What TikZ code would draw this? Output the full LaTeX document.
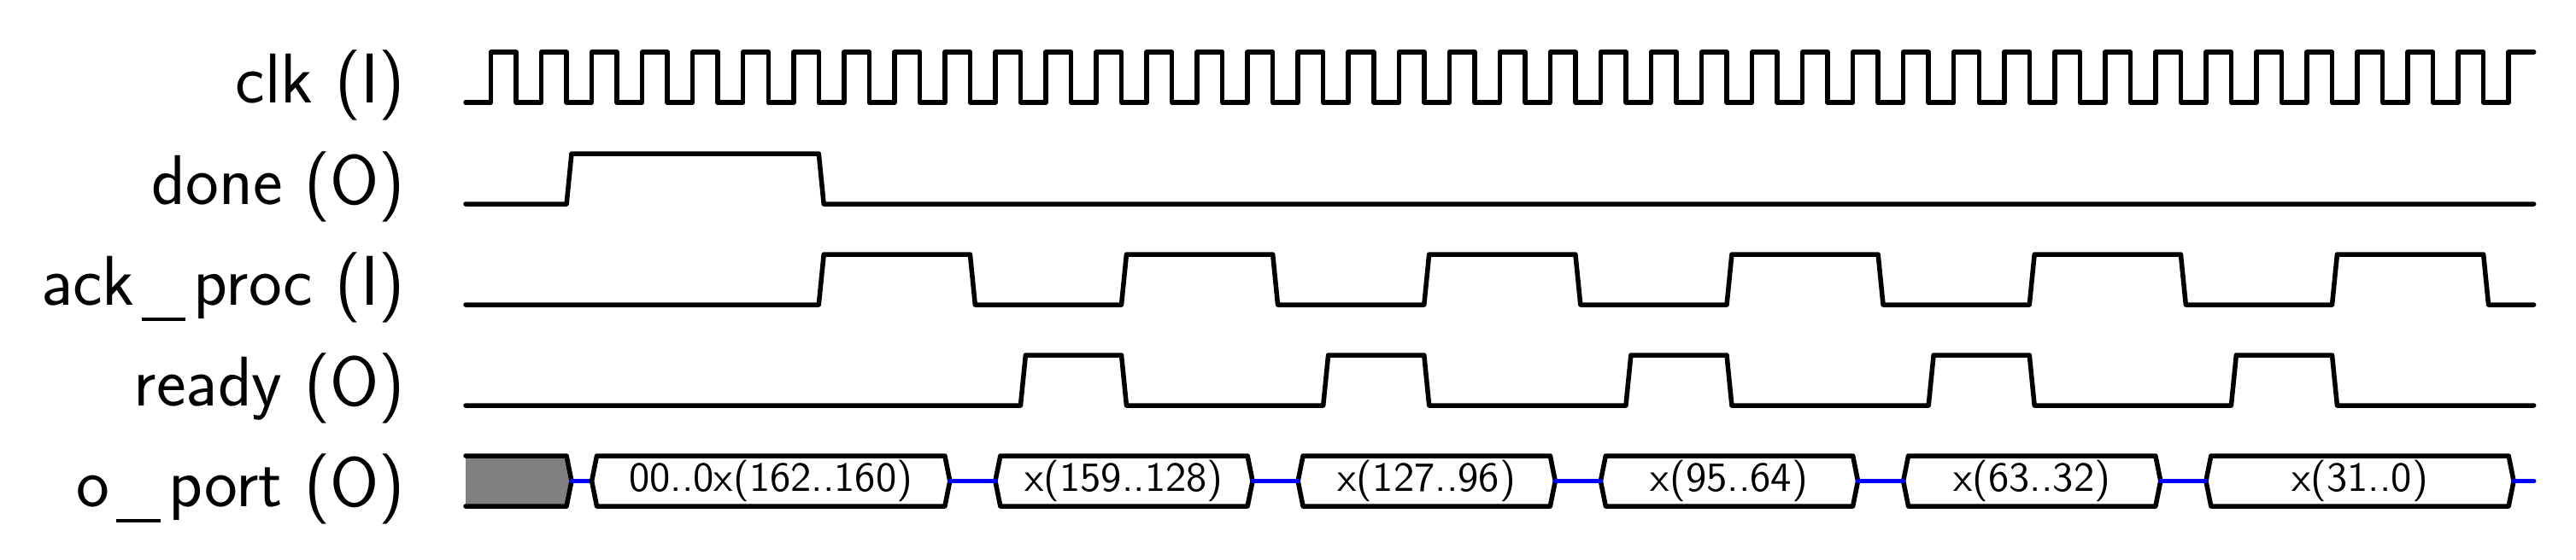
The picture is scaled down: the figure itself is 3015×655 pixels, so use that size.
\documentclass[tikz,border=0pt]{standalone}
\usepackage{tikz}
\newcommand\usc{\kern0.1em\rule[-0.235em]{0.62em}{0.05em}\kern0.12em}
\tikzset{
  sig/.style={line width=1.1pt, line cap=round, line join=round, black},
  zsig/.style={line width=1.1pt, line cap=round, line join=round, blue},
  lbl/.style={anchor=base east, inner sep=0pt, font=\fontsize{16.5}{19}\selectfont\sffamily},
  dtxt/.style={anchor=center, inner sep=0pt, font=\fontsize{9.7}{11}\selectfont\sffamily},
}
\begin{document}
\begin{tikzpicture}[x=0.2pt,y=-0.2pt]
\useasboundingbox (0,0) rectangle (3015,655);
% labels
\node[lbl] (lclk) at (475,120) {clk (I)};
\node[lbl] (ldone) at (475,239) {done (O)};
\node[lbl] (lack) at (475,357) {ack\usc proc (I)};
\node[lbl] (lready) at (475,475) {ready (O)};
\node[lbl] (lport) at (475,593) {o\usc port (O)};
\begin{scope}[shift={(545,0)}, x=5.904pt]
% clock
\draw[sig] (0,120) \foreach \k in {0,...,39}{ -- ({2*\k+1},120) -- ({2*\k+1},61) -- ({2*\k+2},61) -- ({2*\k+2},120) } -- (81,120) -- (81,61) -- (82,61);
% done
\draw[sig] (0,239) -- (4,239) -- (4.2,180) -- (14,180) -- (14.2,239) -- (82,239);
% ack_proc
\draw[sig] (0,357) -- (14,357) -- (14.2,298) -- (20,298) -- (20.2,357)
  \foreach \a in {26,38,50,62,74}{ -- (\a,357) -- ({\a+0.2},298) -- ({\a+6},298) -- ({\a+6.2},357) } -- (82,357);
% ready
\draw[sig] (0,475) \foreach \a in {22,34,46,58,70}{ -- (\a,475) -- ({\a+0.2},416) -- ({\a+4},416) -- ({\a+4.2},475) } -- (82,475);
% o_port
\fill[gray] (0,534) -- (4,534) -- (4.2,563.5) -- (4,593) -- (0,593) -- cycle;
\draw[sig] (0,534) -- (4,534) -- (4.2,563.5) -- (4,593) -- (0,593);
\draw[zsig] (4.2,563.5) -- (5,563.5);
\foreach \s/\e/\t [count=\i] in {5/19/{00..0x(162..160)}, 21/31/{x(159..128)}, 33/43/{x(127..96)}, 45/55/{x(95..64)}, 57/67/{x(63..32)}, 69/81/{x(31..0)}}{
  \draw[sig] (\s,563.5) -- ({\s+0.2},534) -- (\e,534) -- ({\e+0.2},563.5) -- (\e,593) -- ({\s+0.2},593) -- cycle;
  \node[dtxt] (d\i) at ({(\s+\e+0.2)/2},563.5) {\t};
}
\foreach \s/\e in {19.2/21, 31.2/33, 43.2/45, 55.2/57, 67.2/69, 81.2/82}{
  \draw[zsig] (\s,563.5) -- (\e,563.5);
}
\end{scope}
\end{tikzpicture}
\end{document}
